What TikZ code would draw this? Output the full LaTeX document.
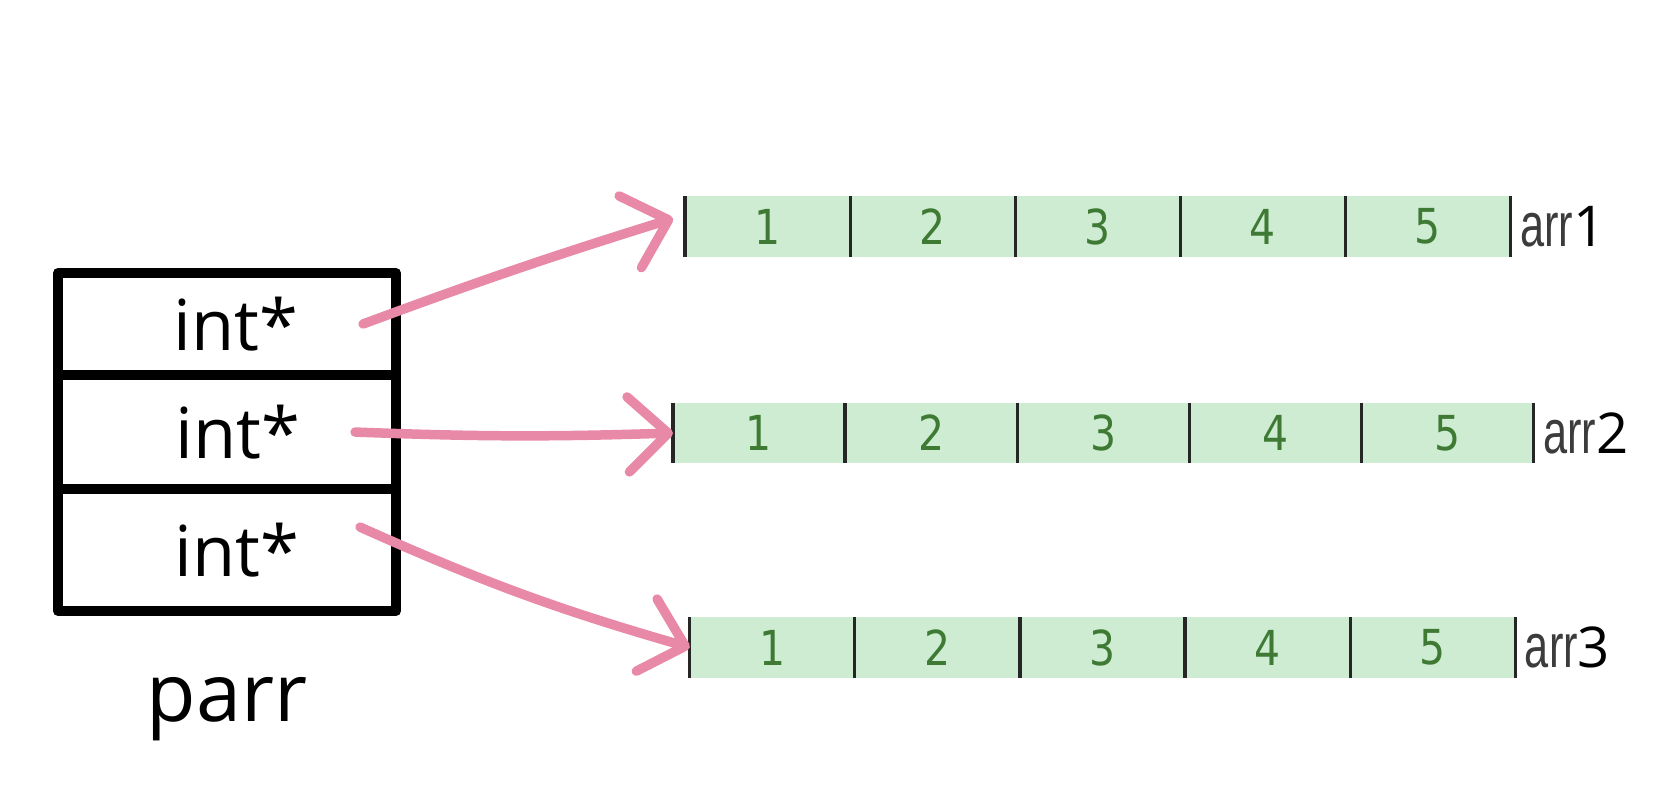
\documentclass[tikz,border=0pt]{standalone}
\usepackage{fontspec}
\usetikzlibrary{arrows.meta, positioning, calc}

\newfontfamily\slotfont{Open Sans}
\newfontfamily\cellfont[FakeStretch=0.85]{DejaVu Sans}
\newfontfamily\arrfont[FakeStretch=0.7]{Liberation Sans}
\definecolor{pointerpink}{RGB}{232,137,168}
\definecolor{cellgreen}{RGB}{205,236,209}
\definecolor{digitgreen}{RGB}{62,122,52}
\definecolor{namegray}{RGB}{60,60,60}

\begin{document}
\begin{tikzpicture}[
        x=0.01cm, y=-0.01cm,
        slot/.style={rectangle, draw=black, line width=2.8pt, line join=round, minimum width=3.38cm, inner sep=0pt, outer sep=0pt, font=\slotfont\fontsize{20}{24}\selectfont},
        divider/.style={draw=black!85, line width=0.9pt},
        cell/.style={rectangle, fill=cellgreen, minimum width=#1, minimum height=0.6cm, inner sep=0pt, outer sep=0pt, text=digitgreen, font=\cellfont\fontsize{13.7}{16}\selectfont, append after command={(\tikzlastnode.north west) edge[divider] (\tikzlastnode.south west)}},
        cell/.default=1.65cm,
        arrname/.style={inner sep=0pt, anchor=west, font=\arrfont\fontsize{17.6}{20}\selectfont},
        arrow/.style={-{Straight Barb[length=4mm, width=7.5mm, round]}, draw=pointerpink, line width=2.7pt, line cap=round}
    ]
    \useasboundingbox (0,0) rectangle (1679,801);

    % Pointer array
    \node (row1) [slot, minimum height=1.02cm] at (227,324) {\hspace*{0.18cm}int*};
    \node (row2) [slot, minimum height=1.14cm, below=0pt of row1] {\hspace*{0.22cm}int*};
    \node (row3) [slot, minimum height=1.22cm, below=0pt of row2] {\hspace*{0.2cm}int*};
    \node (parr) [below=0.66cm of row3, inner sep=0pt, font=\slotfont\fontsize{23}{27}\selectfont] {parr};

    % Arrays
    \node (a11) [cell] at (767.6,226.5) {1};
    \node (a12) [cell, right=0pt of a11] {2};
    \node (a13) [cell, right=0pt of a12] {3};
    \node (a14) [cell, right=0pt of a13] {4};
    \node (a15) [cell, right=0pt of a14] {5};
    \node (arr1) [arrname, right=0.09cm of a15] {{\color{namegray}arr}{\slotfont\fontsize{16}{19}\selectfont 1}};

    \node (a21) [cell=1.72cm] at (759,433) {1};
    \node (a22) [cell=1.72cm, right=0pt of a21] {2};
    \node (a23) [cell=1.72cm, right=0pt of a22] {3};
    \node (a24) [cell=1.72cm, right=0pt of a23] {4};
    \node (a25) [cell=1.72cm, right=0pt of a24] {5};
    \node (arr2) [arrname, right=0.09cm of a25] {{\color{namegray}arr}{\slotfont\fontsize{16}{19}\selectfont 2}};

    \node (a31) [cell] at (772.3,647.5) {1};
    \node (a32) [cell, right=0pt of a31] {2};
    \node (a33) [cell, right=0pt of a32] {3};
    \node (a34) [cell, right=0pt of a33] {4};
    \node (a35) [cell, right=0pt of a34] {5};
    \node (arr3) [arrname, right=0.09cm of a35] {{\color{namegray}arr}{\slotfont\fontsize{16}{19}\selectfont 3}};

    \draw [divider] (a15.north east) -- (a15.south east);
    \draw [divider] (a25.north east) -- (a25.south east);
    \draw [divider] (a35.north east) -- (a35.south east);

    % Pointers
    \draw [arrow] ([xshift=-0.33cm]row1.east) to[bend left=1.5] ([xshift=-0.12cm, yshift=0.08cm]a11.west);
    \draw [arrow] ([xshift=-0.41cm]row2.east) to[bend right=2] (a21.west);
    \draw [arrow] ([xshift=-0.36cm, yshift=0.23cm]row3.east) to[bend right=4] (a31.west);

\end{tikzpicture}
\end{document}
